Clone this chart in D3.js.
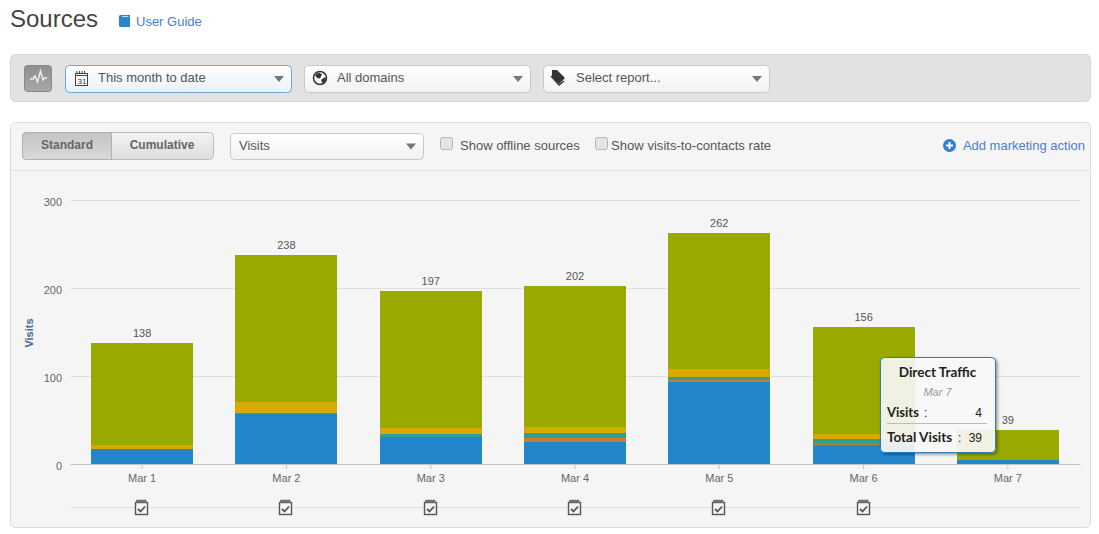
<!DOCTYPE html>
<html><head><meta charset="utf-8">
<style>
html,body{margin:0;padding:0;background:#fff;overflow:hidden}
svg{display:block}
text{font-family:"Liberation Sans",Arial,sans-serif}
</style>
<script src="https://cdn.jsdelivr.net/npm/d3@7"></script>
</head><body>
<script>
const days = ["Mar 1","Mar 2","Mar 3","Mar 4","Mar 5","Mar 6","Mar 7"];
const totals = [138,238,197,202,262,156,39];
const direct   = [17,57,31,25,93,22,4];
const social   = [0,0,0,4,3,1,0];
const referral = [0,1,3,6,3,5,0];
const paid     = [5,12,7,7,9,6,0];
const organic  = [116,168,156,160,154,122,35];
const seriesNames = ["direct","social","referral","paid","organic"];
const seriesColors = ["#2186cc","#c67f2e","#2ba38f","#dba800","#9aa900"];
const yTicks = [0,100,200,300];
const actionDays = ["Mar 1","Mar 2","Mar 3","Mar 4","Mar 5","Mar 6"];

const rows = days.map((d,i)=>({day:d,direct:direct[i],social:social[i],referral:referral[i],paid:paid[i],organic:organic[i],total:totals[i]}));
const W=1099,H=534;
const svg=d3.select("body").append("svg").attr("width",W).attr("height",H);
const defs=svg.append("defs");
const grad=(id,a,b)=>{const g=defs.append("linearGradient").attr("id",id).attr("x1",0).attr("y1",0).attr("x2",0).attr("y2",1);
 g.append("stop").attr("offset","0%").attr("stop-color",a);g.append("stop").attr("offset","100%").attr("stop-color",b);};
grad("sel","#ffffff","#f1f1f1");grad("focus","#ffffff","#e8f1f8");grad("on","#c4c4c4","#dadada");grad("off","#f4f4f4","#dcdcdc");grad("pulse","#8e8e8e","#a8a8a8");
const sh=defs.append("filter").attr("id","shadow").attr("x","-10%").attr("y","-10%").attr("width","125%").attr("height","125%");
sh.append("feDropShadow").attr("dx",1.5).attr("dy",1.5).attr("stdDeviation",1.5).attr("flood-color","#000").attr("flood-opacity",.45);

function rect(x,y,w,h,fill,stroke,r){return svg.append("rect").attr("x",x+.5).attr("y",y+.5).attr("width",w).attr("height",h).attr("rx",r||0).attr("fill",fill).attr("stroke",stroke||"none");}
function label(x,y,t,size,color,anchor,weight){return svg.append("text").attr("x",x).attr("y",y).attr("font-size",size).attr("fill",color).attr("text-anchor",anchor||"start").attr("font-weight",weight||"normal").text(t);}
function arrow(x,y){svg.append("path").attr("d",`M${x-5},${y-2.5}h10l-5,6z`).attr("fill","#777");}
function dropdown(x,y,w,h,t,tx,focus){rect(x,y,w,h,focus?"url(#focus)":"url(#sel)",focus?"#6fa8d0":"#c8c8c8",4);label(tx,y+17,t,13,"#555");arrow(x+w-12,y+h/2);}

// page header
label(10,27,"Sources",24,"#444");
svg.append("path").attr("d","M119,16.5q0,-1.5 1.5,-1.5h9.5v12h-9.5q-1.5,0 -1.5,-1.5z").attr("fill","#2a85d0");
svg.append("path").attr("d","M122,16.5h6.5").attr("stroke","#bcdcf4").attr("stroke-width",1);
label(136,26,"User Guide",13,"#4a80d0");

// filter bar
rect(10,54,1080,47,"#e2e2e2","#d6d6d6",5);
rect(24,65,27,26,"url(#pulse)","#8a8a8a",3);
svg.append("path").attr("d","M30,79h3l2,-3l2.5,6l3,-11l2.5,9l1.5,-2h2.5").attr("fill","none").attr("stroke","#eee").attr("stroke-width",1.5);
dropdown(65,65,226,27,"This month to date",98,true);
dropdown(304,65,226,27,"All domains",337);
dropdown(543,65,226,27,"Select report...",576);
// calendar, globe and tag icons
svg.append("rect").attr("x",75.5).attr("y",73.5).attr("width",12).attr("height",12).attr("fill","#fff").attr("stroke","#444");
svg.append("path").attr("d","M77,74v-3M79.5,74v-3M82,74v-3M84.5,74v-3M75,75.5h13").attr("stroke","#444").attr("fill","none");
label(77.5,84,"31",8,"#333");
svg.append("circle").attr("cx",320).attr("cy",78).attr("r",6.5).attr("fill","#fff").attr("stroke","#333").attr("stroke-width",1.5);
svg.append("path").attr("d","M315,75l4,-2.5l3,2l-2,4l-3,-.5zM321,80l4,-3l1,2l-3,5z").attr("fill","#333");
svg.append("path").attr("d","M552,70h5l8,8l-6,6l-7,-7z").attr("fill","#333");
svg.append("path").attr("d","M551,76l8,9l5,-4").attr("fill","none").attr("stroke","#333").attr("stroke-width",1.3);

// chart panel
rect(10,122,1080,405,"#f5f5f5","#dcdcdc",5);
svg.append("line").attr("x1",11).attr("x2",1090).attr("y1",170.5).attr("y2",170.5).attr("stroke","#e2e2e2");
rect(22,132,191,27,"url(#off)","#bdbdbd",4);
svg.append("path").attr("d","M26.5,132.5H111.5V159.5H26.5q-4,0 -4,-4V136.5q0,-4 4,-4z").attr("fill","url(#on)").attr("stroke","#b0b0b0");
label(67,149,"Standard",12,"#666","middle","bold");
label(162,149,"Cumulative",12,"#666","middle","bold");
dropdown(230,133,193,26,"Visits",239);
rect(440,137,12,12,"#e4e4e4","#b5b5b5",2);
label(460,150,"Show offline sources",13,"#555");
rect(595,137,12,12,"#e4e4e4","#b5b5b5",2);
label(611,150,"Show visits-to-contacts rate",13.1,"#555");
svg.append("circle").attr("cx",949.5).attr("cy",145.5).attr("r",6.5).attr("fill","#2f7fd6");
svg.append("path").attr("d","M949.5,142v7M946,145.5h7").attr("stroke","#fff").attr("stroke-width",2);
label(1085,150,"Add marketing action",13,"#4a80d0","end");

// scales
const x=d3.scaleBand().domain(days).range([70,1080]).paddingInner(.293).paddingOuter(.1465);
const y=d3.scaleLinear().domain([0,300]).range([464,200]);

// gridlines and y axis
const gy=svg.append("g").attr("transform","translate(70,0)")
 .call(d3.axisLeft(y).tickValues(yTicks).tickSize(-1010).tickPadding(8));
gy.select(".domain").remove();
gy.selectAll("line").attr("stroke","#e0e0e0");
gy.selectAll("text").attr("font-size",11).attr("fill","#666").attr("dy","0.5em").style("font-family",'"Liberation Sans",Arial,sans-serif');

// stacked bars
const stack=d3.stack().keys(seriesNames)(rows);
const color=d3.scaleOrdinal(seriesNames,seriesColors);
svg.append("g").attr("shape-rendering","crispEdges").selectAll("g").data(stack).join("g").attr("fill",s=>color(s.key))
 .selectAll("rect").data(s=>s).join("rect")
 .attr("x",d=>x(d.data.day)).attr("width",x.bandwidth())
 .attr("y",d=>y(d[1])).attr("height",d=>y(d[0])-y(d[1]));

// total labels
svg.append("g").selectAll("text").data(rows).join("text")
 .attr("x",d=>x(d.day)+x.bandwidth()/2).attr("y",d=>y(d.total)-6)
 .attr("text-anchor","middle").attr("font-size",11).attr("fill","#555").text(d=>d.total);

// x axis
const gx=svg.append("g").attr("transform","translate(0,464)")
 .call(d3.axisBottom(x).tickSize(5).tickPadding(5).tickSizeOuter(0));
gx.select(".domain").attr("stroke","#c4c4c4");
gx.selectAll("line").attr("stroke","#c4c4c4");
gx.selectAll("text").attr("font-size",11).attr("fill","#666").style("font-family",'"Liberation Sans",Arial,sans-serif');

// axis title
svg.append("text").attr("transform","translate(33,333) rotate(-90)").attr("text-anchor","middle")
 .attr("font-size",11).attr("font-weight","bold").attr("fill","#4a6a96").text("Visits");

// marketing action row
svg.append("line").attr("x1",70).attr("x2",1080).attr("y1",507.5).attr("y2",507.5).attr("stroke","#e0e0e0");
const act=svg.append("g").selectAll("g").data(actionDays).join("g")
 .attr("transform",d=>`translate(${Math.round(x(d)+x.bandwidth()/2)-.5},507.5)`);
act.append("rect").attr("x",-6).attr("y",-5).attr("width",12).attr("height",12).attr("fill","#f5f5f5").attr("stroke","#555").attr("stroke-width",1.4);
act.append("path").attr("d","M-5,-5v-2.5h2v1h.5v-1h2v1h.5v-1h2v1h.5v-1h2v2.5").attr("fill","#777").attr("stroke","#666").attr("stroke-width",.6);
act.append("path").attr("d","M-3.5,1.5l2.5,2.5l4.5,-5").attr("fill","none").attr("stroke","#555").attr("stroke-width",1.8);

// tooltip
rect(880,357,115,95,"rgba(255,255,255,.86)","#2f7fb5",4).attr("filter","url(#shadow)");
label(937.5,377,"Direct Traffic",13.5,"#222","middle","bold").style("font-family","Lato");
label(937.5,396,"Mar 7",11,"#999","middle").attr("font-style","italic");
label(887,417,"Visits",13,"#222","start","bold").style("font-family","Lato");
label(924,417,":",12,"#222");
label(982,417,"4",12,"#222","end");
svg.append("line").attr("x1",887).attr("x2",987).attr("y1",423.5).attr("y2",423.5).attr("stroke","#bbb");
label(887,442,"Total Visits",13.5,"#222","start","bold").style("font-family","Lato");
label(958,442,":",12,"#222");
label(982,442,"39",12,"#222","end");
</script>
</body></html>
